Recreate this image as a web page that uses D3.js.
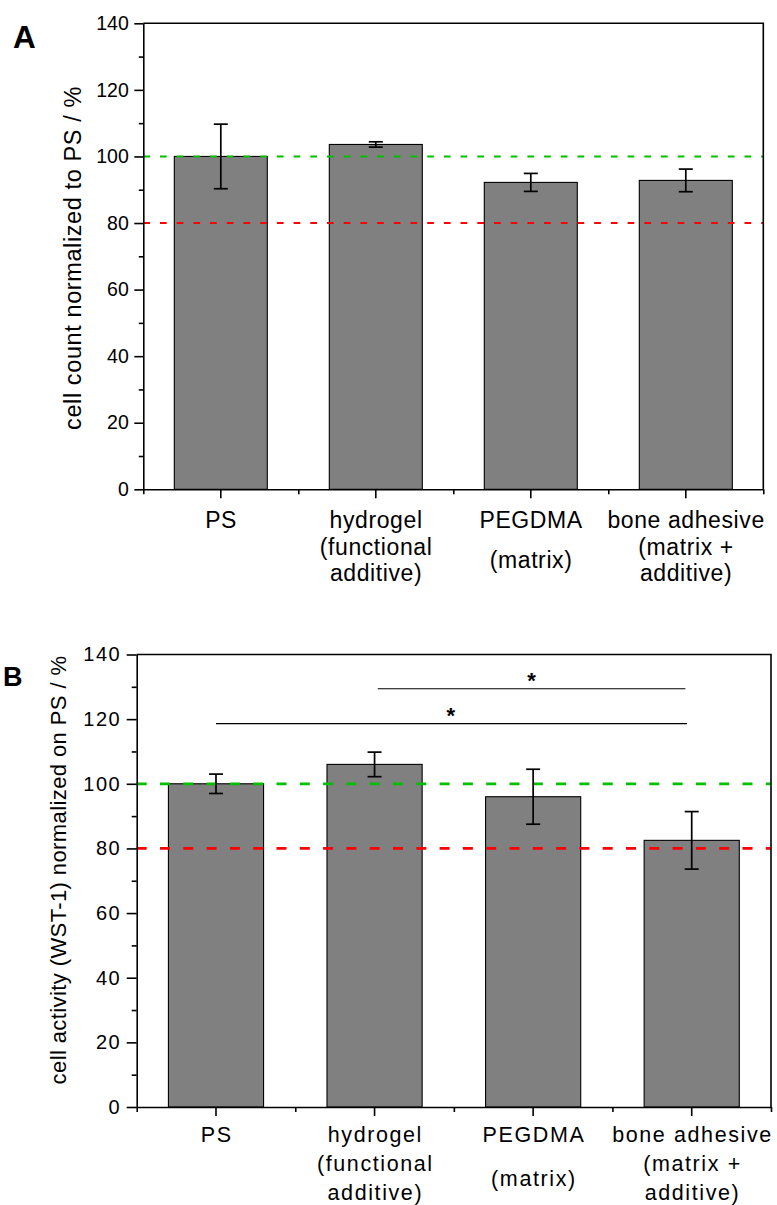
<!DOCTYPE html>
<html>
<head>
<meta charset="utf-8">
<script src="https://cdn.jsdelivr.net/npm/d3@7"></script>
<style>
  body { margin: 0; background: #fff; }
  svg { display: block; }
  text { font-family: "Liberation Sans", Arial, Helvetica, sans-serif; fill: #000; }
</style>
</head>
<body>
<svg id="chart" width="777" height="1205"></svg>
<script>
// Groups on the x axis and their printed (multi-line) labels
const categories = ["PS", "hydrogel", "PEGDMA", "bone adhesive"];
const labelLines = [
  ["PS"],
  ["hydrogel", "(functional", "additive)"],
  ["PEGDMA", "(matrix)"],
  ["bone adhesive", "(matrix +", "additive)"]
];
const labelRows = [[0], [0, 1, 2], [0, 1.5], [0, 1, 2]];

// A: cell count normalized to PS (mean, error)
const cellCount = [100, 103.6, 92.2, 92.8];
const cellCountErr = [9.7, 0.8, 2.7, 3.4];

// B: WST-1 cell activity normalized on PS (mean, error)
const wstActivity = [100, 106.0, 96.0, 82.5];
const wstActivityErr = [3.0, 3.8, 8.5, 8.9];

// y axis ticks
const yMajorTicks = [0, 20, 40, 60, 80, 100, 120, 140];
const yMinorTicks = [10, 30, 50, 70, 90, 110, 130];

// horizontal reference levels (100 % and 80 %)
const referenceLevels = [100, 80];
const referenceColors = ["#00c000", "#ff0000"];

// significance brackets in B (x in category-index units, y in %)
const sigFrom = [1.52, 0.50];
const sigTo = [3.46, 3.47];
const sigLevel = [129.4, 118.6];
const sigStarAt = [2.49, 1.98];
const sigMarks = ["*", "*"];

const svg = d3.select("#chart");

function drawPanel(cfg) {
  const g = svg.append("g");
  const x = d3.scaleBand().domain(categories)
    .range([cfg.left, cfg.right]).paddingInner(0.4).paddingOuter(0.2);
  const xi = d3.scaleLinear().domain([0, categories.length]).range([cfg.left, cfg.right]);
  const y = d3.scaleLinear().domain([0, 140]).range([cfg.bottom, cfg.top]);

  // bars
  g.append("g").selectAll("rect").data(cfg.values).join("rect")
    .attr("x", (d, i) => x(categories[i]))
    .attr("width", x.bandwidth())
    .attr("y", d => y(d))
    .attr("height", d => y(0) - y(d))
    .attr("fill", "#808080")
    .attr("stroke", "#000")
    .attr("stroke-width", 1.1);

  // reference lines
  g.append("g").selectAll("line").data(referenceLevels).join("line")
    .attr("x1", cfg.left).attr("x2", cfg.right)
    .attr("y1", d => y(d)).attr("y2", d => y(d))
    .attr("stroke", (d, i) => referenceColors[i])
    .attr("stroke-width", cfg.dashWidth)
    .attr("stroke-dasharray", cfg.dash);

  // error bars
  const eb = g.append("g").attr("stroke", "#000").attr("stroke-width", 1.7);
  cfg.values.forEach((v, i) => {
    const cx = x(categories[i]) + x.bandwidth() / 2;
    const lo = y(v - cfg.errors[i]), hi = y(v + cfg.errors[i]);
    eb.append("line").attr("x1", cx).attr("x2", cx).attr("y1", lo).attr("y2", hi);
    eb.append("line").attr("x1", cx - 7).attr("x2", cx + 7).attr("y1", lo).attr("y2", lo);
    eb.append("line").attr("x1", cx - 7).attr("x2", cx + 7).attr("y1", hi).attr("y2", hi);
  });

  // y axis: major ticks with labels, minor ticks
  const yAxis = g.append("g").attr("transform", `translate(${cfg.left},0)`)
    .call(d3.axisLeft(y).tickValues(yMajorTicks).tickSize(cfg.majorTick)
      .tickPadding(cfg.tickPad).tickSizeOuter(0));
  yAxis.selectAll("text")
    .style("font-size", cfg.tickFont + "px")
    .style("letter-spacing", cfg.tickLs + "px");
  g.append("g").attr("transform", `translate(${cfg.left},0)`)
    .call(d3.axisLeft(y).tickValues(yMinorTicks).tickSize(cfg.minorTick).tickFormat(""))
    .call(a => a.select(".domain").remove());

  // x axis: major ticks at group centres, minor ticks at group boundaries
  g.append("g").attr("transform", `translate(0,${cfg.bottom})`)
    .call(d3.axisBottom(xi).tickValues(d3.range(categories.length + 1))
      .tickSize(5).tickFormat("").tickSizeOuter(0));
  g.append("g").attr("transform", `translate(0,${cfg.bottom})`)
    .call(d3.axisBottom(x).tickSize(9).tickFormat("").tickSizeOuter(0))
    .call(a => a.select(".domain").remove());

  g.selectAll(".domain, .tick line").attr("stroke", "#000").attr("stroke-width", 1.6);

  // frame (top and right)
  g.append("path")
    .attr("d", `M${cfg.left},${cfg.top}H${cfg.right}V${cfg.bottom}`)
    .attr("fill", "none").attr("stroke", "#000").attr("stroke-width", 1.6);

  // multi-line category labels
  labelLines.forEach((lines, i) => {
    const cx = x(categories[i]) + x.bandwidth() / 2;
    lines.forEach((s, j) => {
      g.append("text")
        .attr("x", cx + cfg.catLs / 2)
        .attr("y", cfg.labelTop + labelRows[i][j] * cfg.labelStep)
        .attr("text-anchor", "middle")
        .style("font-size", cfg.catFont + "px")
        .style("letter-spacing", cfg.catLs + "px")
        .text(s);
    });
  });

  // y axis title
  g.append("text")
    .attr("transform", `translate(${cfg.titleX},${cfg.titleY}) rotate(-90)`)
    .attr("text-anchor", "middle")
    .style("font-size", cfg.titleFont + "px")
    .style("letter-spacing", cfg.titleLs + "px")
    .text(cfg.title);

  // panel letter
  g.append("text")
    .attr("x", cfg.letterX).attr("y", cfg.letterY)
    .style("font-size", cfg.letterFont + "px")
    .style("font-weight", "bold")
    .text(cfg.letter);

  return { g, xi, y };
}

drawPanel({
  values: cellCount, errors: cellCountErr,
  left: 143.3, right: 763.3, top: 23.3, bottom: 489.3,
  dash: "6.7,10", dashWidth: 2,
  majorTick: 9, minorTick: 4.5, tickPad: 5.5, tickFont: 19.5, tickLs: 0,
  catFont: 23, catLs: 0.6, labelTop: 528, labelStep: 26.5,
  title: "cell count normalized to PS / %", titleX: 81, titleY: 258, titleFont: 23.5, titleLs: 0.6,
  letter: "A", letterX: 13, letterY: 47.7, letterFont: 31.5
});

const pB = drawPanel({
  values: wstActivity, errors: wstActivityErr,
  left: 136.7, right: 771, top: 654.5, bottom: 1107,
  dash: "10,13.3", dashWidth: 2.7,
  majorTick: 10, minorTick: 5, tickPad: 5.5, tickFont: 20, tickLs: 1.5,
  catFont: 21.5, catLs: 1.6, labelTop: 1142, labelStep: 29,
  title: "cell activity (WST-1) normalized on PS / %", titleX: 66, titleY: 870, titleFont: 22, titleLs: 0.4,
  letter: "B", letterX: 3, letterY: 686, letterFont: 27
});

// significance brackets with stars
const sg = pB.g.append("g");
sigLevel.forEach((lvl, i) => {
  sg.append("line")
    .attr("x1", pB.xi(sigFrom[i])).attr("x2", pB.xi(sigTo[i]))
    .attr("y1", pB.y(lvl)).attr("y2", pB.y(lvl))
    .attr("stroke", "#000").attr("stroke-width", 1.2);
  sg.append("text")
    .attr("x", pB.xi(sigStarAt[i]))
    .attr("y", pB.y(lvl) - 1)
    .attr("text-anchor", "middle")
    .style("font-size", "22px")
    .style("font-weight", "bold")
    .text(sigMarks[i]);
});
</script>
</body>
</html>
